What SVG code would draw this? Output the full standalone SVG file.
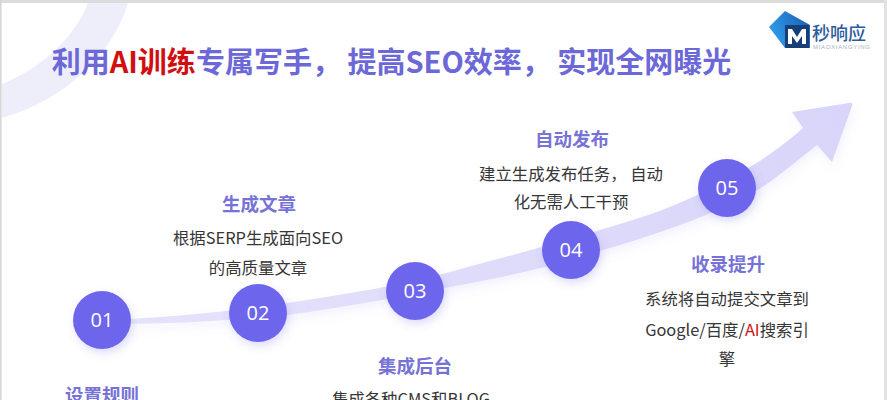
<svg xmlns="http://www.w3.org/2000/svg" width="887" height="400" viewBox="0 0 887 400">
<defs>
<filter id="sh" x="-30%" y="-30%" width="160%" height="160%"><feDropShadow dx="2" dy="4" stdDeviation="4" flood-color="#6a62e6" flood-opacity="0.22"/></filter>
<filter id="soft" x="-10%" y="-10%" width="120%" height="130%"><feDropShadow dx="2" dy="5" stdDeviation="5" flood-color="#8a84ee" flood-opacity="0.10"/></filter>
<linearGradient id="ar" x1="70" y1="322" x2="850" y2="110" gradientUnits="userSpaceOnUse"><stop offset="0" stop-color="#e2e0fb" stop-opacity="0"/><stop offset="0.09" stop-color="#e4e2fb"/><stop offset="1" stop-color="#d8d5fa"/></linearGradient>
<linearGradient id="lg" x1="770" y1="30" x2="805" y2="15" gradientUnits="userSpaceOnUse"><stop offset="0" stop-color="#2f9be8"/><stop offset="1" stop-color="#1c62b8"/></linearGradient>
</defs>
<style>
text{font-family:"Noto Sans CJK SC","Noto Sans",sans-serif;text-anchor:middle}
.h{font-size:18.500px;font-weight:700;fill:#7672d6}
.b{font-size:16.400px;fill:#363636}
.n{font-size:20px;fill:#fff;font-family:"Open Sans","Noto Sans",sans-serif}
.c{fill:#6d66ec;filter:url(#sh)}
.red{fill:#d01010}
</style>
<rect width="887" height="400" fill="#fff"/>
<path d="M0 1.500H887" stroke="#dcdcdc" stroke-width="3"/>
<path d="M0.800 0V400" stroke="#d4d4d4" stroke-width="1.500"/>
<path d="M885.500 0V400" stroke="#e2e2e2" stroke-width="3"/>
<path d="M88 3H128C112 55 65 100 2 118V84C45 66 75 36 88 3Z" fill="#eeeefb"/>
<g id="title"><text x="391.500" y="73" style="font-size:29px;font-weight:700" fill="#6c68d8">利用<tspan class="red">AI训练</tspan>专属写手， 提高SEO效率， 实现全网曝光</text></g>
<g id="logo">
<path d="M769 27L785 11L810 25V48H785Z" fill="url(#lg)"/>
<rect x="785" y="25" width="24" height="23" fill="#163f78"/>
<path d="M788 44V29H792L797 37L802 29H806V44H802V36L797 43L792 36V44Z" fill="#fff"/>
<text x="839" y="40" style="font-size:18px;font-weight:500" fill="#2b5c9c">秒响应</text>
<text x="841.500" y="48.500" style="font-size:6px;font-family:'Liberation Sans',sans-serif" fill="#a9b2c0" textLength="57">MIAOXIANGYING</text>
</g>
<g id="connectors">
<path filter="url(#soft)" fill="url(#ar)" d="M70 322C130 320 220 314 287 303C340 295 400 286 450 272C510 256 560 242 600 230C620 224 640 218 657 212C695 197 725 183 750 167C770 155 788 141 803 128L792 112L849 103Q853 102 852 106L832 162L817 145C798 160 778 177 755 192C725 208 690 222 657 233C640 239 620 245 600 251C560 265 500 278 450 287C400 297 340 308 287 315C220 322 140 325 70 324Z"/>
</g>
<g id="n1"><circle class="c" cx="102" cy="320" r="29"/><text class="n" x="102" y="327">01</text><text class="h" x="102" y="402">设置规则</text></g>
<g id="n2"><circle class="c" cx="258" cy="313" r="29"/><text class="n" x="258" y="320">02</text><text class="h" x="259" y="211">生成文章</text><text class="b" x="258" y="244">根据SERP生成面向SEO</text><text class="b" x="258" y="274">的高质量文章</text></g>
<g id="n3"><circle class="c" cx="415" cy="291" r="29"/><text class="n" x="415" y="298">03</text><text class="h" x="415" y="373">集成后台</text><text class="b" x="411" y="405">集成各种CMS和BLOG</text></g>
<g id="n4"><circle class="c" cx="571" cy="250" r="29"/><text class="n" x="571" y="257">04</text><text class="h" x="572" y="146">自动发布</text><text class="b" x="571" y="180">建立生成发布任务， 自动</text><text class="b" x="571" y="208">化无需人工干预</text></g>
<g id="n5"><circle class="c" cx="727" cy="188" r="29"/><text class="n" x="727" y="195">05</text><text class="h" x="728" y="271">收录提升</text><text class="b" x="727" y="305">系统将自动提交文章到</text><text class="b" x="727" y="336">Google/百度/<tspan class="red">AI</tspan>搜索引</text><text class="b" x="727" y="365">擎</text></g>
</svg>
